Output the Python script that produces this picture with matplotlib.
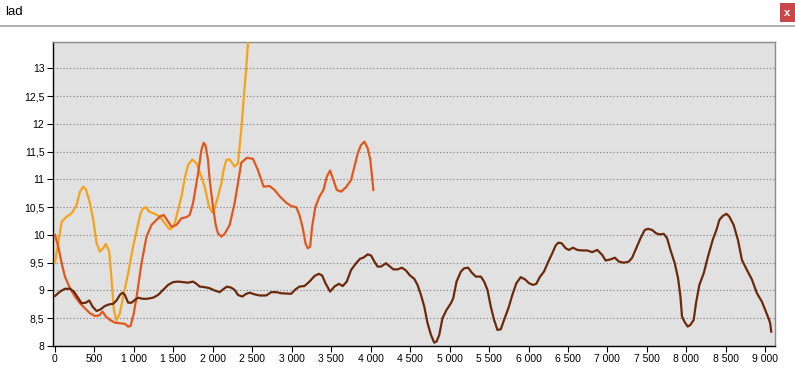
import matplotlib
matplotlib.use("Agg")
import matplotlib.pyplot as plt
from matplotlib.patches import Rectangle
from matplotlib.lines import Line2D
from matplotlib.ticker import FuncFormatter, MultipleLocator

# series 1 (yellow)
yellow_x = [0, 85, 148, 211, 274, 316, 358, 392, 443, 485, 527, 569, 611, 645, 687, 717, 746, 780,
            822, 873, 927, 990, 1041, 1084, 1117, 1151, 1193, 1265, 1328, 1391, 1454, 1505, 1560,
            1602, 1644, 1686, 1741, 1792, 1855, 1897, 1951, 1994, 2023, 2065, 2108, 2137, 2171,
            2213, 2276, 2318, 2360, 2390, 2424, 2445]
yellow_y = [9.50, 10.24, 10.33, 10.39, 10.54, 10.78, 10.87, 10.82, 10.57, 10.27, 9.85, 9.70, 9.76,
            9.84, 9.70, 9.19, 8.65, 8.46, 8.59, 8.95, 9.31, 9.79, 10.12, 10.39, 10.48, 10.50, 10.42,
            10.38, 10.33, 10.21, 10.10, 10.15, 10.45, 10.69, 11.02, 11.26, 11.36, 11.29, 11.05,
            10.87, 10.51, 10.40, 10.48, 10.69, 10.93, 11.17, 11.35, 11.36, 11.23, 11.29, 11.89,
            12.43, 13.03, 13.45]

# series 2 (orange-red)
red_x = [0, 42, 85, 126, 190, 253, 316, 379, 443, 506, 561, 603, 645, 696, 759, 822, 885, 927, 957,
         999, 1041, 1096, 1160, 1223, 1286, 1328, 1378, 1420, 1476, 1539, 1602, 1665, 1707, 1749,
         1792, 1813, 1855, 1884, 1909, 1939, 1960, 2002, 2036, 2065, 2108, 2150, 2213, 2276, 2318,
         2360, 2432, 2508, 2571, 2643, 2719, 2782, 2845, 2930, 2993, 3056, 3098, 3140, 3174, 3203,
         3233, 3258, 3300, 3351, 3402, 3444, 3486, 3528, 3570, 3625, 3688, 3752, 3794, 3836, 3878,
         3920, 3962, 3996, 4017, 4034]
red_y = [10.00, 9.79, 9.49, 9.25, 9.04, 8.89, 8.77, 8.68, 8.59, 8.54, 8.55, 8.62, 8.53, 8.47, 8.42,
         8.41, 8.40, 8.35, 8.36, 8.59, 8.95, 9.49, 9.97, 10.18, 10.27, 10.33, 10.36, 10.27, 10.15,
         10.18, 10.30, 10.32, 10.36, 10.57, 10.93, 11.11, 11.53, 11.66, 11.60, 11.35, 10.99, 10.51,
         10.18, 10.03, 9.97, 10.02, 10.18, 10.57, 10.93, 11.30, 11.39, 11.37, 11.17, 10.87, 10.88,
         10.81, 10.70, 10.58, 10.52, 10.50, 10.36, 10.12, 9.85, 9.76, 9.79, 10.15, 10.51, 10.69,
         10.81, 11.05, 11.16, 10.99, 10.81, 10.78, 10.86, 10.99, 11.23, 11.47, 11.62, 11.68, 11.56,
         11.35, 11.05, 10.81]

# series 3 (brown)
brown_x = [0, 63, 126, 190, 240, 295, 337, 392, 434, 476, 527, 578, 632, 687, 737, 780, 822, 856,
           885, 927, 970, 1012, 1054, 1109, 1167, 1243, 1307, 1370, 1433, 1496, 1560, 1623, 1686,
           1749, 1792, 1834, 1897, 1960, 2023, 2087, 2129, 2179, 2234, 2276, 2318, 2373, 2424,
           2466, 2529, 2592, 2677, 2740, 2803, 2866, 2993, 3047, 3098, 3161, 3225, 3288, 3343,
           3385, 3427, 3486, 3541, 3596, 3646, 3697, 3752, 3815, 3865, 3907, 3962, 4005, 4047,
           4088, 4131, 4194, 4236, 4287, 4341, 4397, 4447, 4498, 4552, 4594, 4637, 4679, 4721,
           4764, 4805, 4834, 4869, 4910, 4961, 5017, 5046, 5088, 5143, 5185, 5235, 5282, 5332,
           5396, 5438, 5480, 5522, 5564, 5606, 5648, 5690, 5745, 5795, 5846, 5901, 5956, 6007,
           6057, 6099, 6142, 6196, 6251, 6301, 6344, 6377, 6420, 6471, 6512, 6563, 6618, 6681,
           6744, 6807, 6871, 6934, 6976, 7040, 7094, 7145, 7208, 7271, 7313, 7364, 7419, 7473,
           7515, 7566, 7616, 7659, 7714, 7756, 7798, 7853, 7895, 7925, 7945, 7979, 8017, 8051,
           8093, 8122, 8165, 8220, 8274, 8334, 8388, 8418, 8460, 8507, 8545, 8599, 8654, 8704,
           8767, 8830, 8894, 8957, 8999, 9041, 9062, 9075]
brown_y = [8.90, 8.98, 9.03, 9.03, 8.98, 8.86, 8.77, 8.78, 8.82, 8.71, 8.63, 8.66, 8.72, 8.75, 8.76,
           8.82, 8.92, 8.96, 8.92, 8.78, 8.78, 8.83, 8.87, 8.85, 8.85, 8.87, 8.92, 9.01, 9.10, 9.15,
           9.16, 9.15, 9.14, 9.16, 9.12, 9.07, 9.06, 9.04, 9.00, 8.97, 9.02, 9.07, 9.05, 9.01, 8.92,
           8.89, 8.94, 8.96, 8.93, 8.91, 8.91, 8.97, 8.97, 8.95, 8.94, 9.02, 9.07, 9.08, 9.16, 9.26,
           9.30, 9.27, 9.13, 8.98, 9.07, 9.12, 9.08, 9.16, 9.37, 9.49, 9.57, 9.59, 9.65, 9.63, 9.52,
           9.43, 9.43, 9.49, 9.44, 9.38, 9.38, 9.41, 9.36, 9.27, 9.21, 9.10, 8.92, 8.71, 8.41, 8.20,
           8.06, 8.08, 8.20, 8.50, 8.65, 8.77, 8.86, 9.16, 9.34, 9.40, 9.41, 9.32, 9.25, 9.25, 9.16,
           9.01, 8.71, 8.47, 8.29, 8.30, 8.47, 8.68, 8.92, 9.13, 9.24, 9.20, 9.13, 9.10, 9.12, 9.24,
           9.34, 9.52, 9.67, 9.81, 9.86, 9.85, 9.76, 9.73, 9.77, 9.73, 9.72, 9.72, 9.69, 9.73, 9.64,
           9.54, 9.56, 9.59, 9.52, 9.50, 9.52, 9.59, 9.76, 9.94, 10.09, 10.11, 10.09, 10.03, 10.01,
           10.02, 9.94, 9.73, 9.49, 9.22, 8.89, 8.53, 8.43, 8.35, 8.38, 8.47, 8.77, 9.10, 9.31, 9.61,
           9.91, 10.12, 10.27, 10.34, 10.38, 10.33, 10.18, 9.91, 9.55, 9.37, 9.20, 8.95, 8.80, 8.65,
           8.50, 8.41, 8.26]

title = "lad"

plt.rcParams['font.family'] = ['Liberation Sans', 'DejaVu Sans']

fig = plt.figure(figsize=(7.95, 3.78), dpi=100)
fig.patch.set_facecolor('white')

# window-like header
fig.text(5 / 795, 1 - 12 / 378, title, fontsize=9.5, va='center', ha='left', color='#000000')
fig.add_artist(Line2D([0, 1], [1 - 26 / 378, 1 - 26 / 378], color='#a0a0a0', lw=1.2,
                      transform=fig.transFigure))
fig.add_artist(Rectangle((780 / 795, 1 - 22 / 378), 15 / 795, 19 / 378, transform=fig.transFigure,
                         facecolor='#c9474b', edgecolor='none'))
fig.text(787.5 / 795, 1 - 12.5 / 378, 'x', fontsize=8, color='white', ha='center', va='center',
         fontweight='bold')

ax = fig.add_axes([52.7 / 795, 1 - 346 / 378, (775.3 - 52.7) / 795, (346 - 41.7) / 378])
ax.set_facecolor('#e1e1e1')

ax.plot(yellow_x, yellow_y, color='#f5a21c', lw=1.6, zorder=3)
ax.plot(red_x, red_y, color='#e1571c', lw=1.6, zorder=4)
ax.plot(brown_x, brown_y, color='#6b2a0c', lw=1.6, zorder=5)

ax.set_xlim(-29, 9127)
ax.set_ylim(8, 13.48)

ax.xaxis.set_major_locator(MultipleLocator(500))
ax.yaxis.set_major_locator(MultipleLocator(0.5))
ax.xaxis.set_major_formatter(FuncFormatter(lambda v, p: f"{int(round(v)):,}".replace(",", " ")))
ax.yaxis.set_major_formatter(FuncFormatter(lambda v, p: f"{v:g}".replace(".", ",")))

ax.grid(axis='y', linestyle=(0, (1, 2)), color='#7a7a7a', lw=0.8)
ax.set_axisbelow(True)

for s in ['left', 'bottom']:
    ax.spines[s].set_color('black')
    ax.spines[s].set_linewidth(1.0)
for s in ['top', 'right']:
    ax.spines[s].set_color('#8a8a8a')
    ax.spines[s].set_linewidth(1.0)

ax.tick_params(axis='both', labelsize=7.5, length=4, width=0.8, color='black', pad=2)

fig.savefig('out.png', dpi=100)
